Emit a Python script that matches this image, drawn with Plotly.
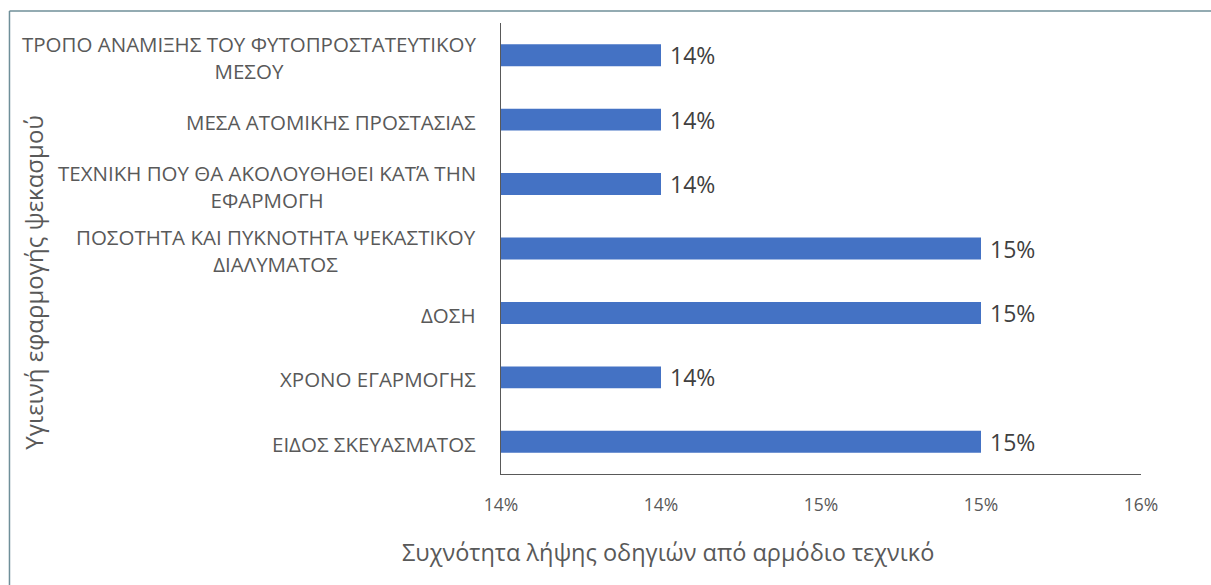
import textwrap
import plotly.graph_objects as go

# Topics on which spraying-hygiene instructions were received (top to bottom)
categories = [
    "ΤΡΟΠΟ ΑΝΑΜΙΞΗΣ ΤΟΥ ΦΥΤΟΠΡΟΣΤΑΤΕΥΤΙΚΟΥ ΜΕΣΟΥ",
    "ΜΕΣΑ ΑΤΟΜΙΚΗΣ ΠΡΟΣΤΑΣΙΑΣ",
    "ΤΕΧΝΙΚΗ ΠΟΥ ΘΑ ΑΚΟΛΟΥΘΗΘΕΙ ΚΑΤΆ ΤΗΝ ΕΦΑΡΜΟΓΗ",
    "ΠΟΣΟΤΗΤΑ ΚΑΙ ΠΥΚΝΟΤΗΤΑ ΨΕΚΑΣΤΙΚΟΥ ΔΙΑΛΥΜΑΤΟΣ",
    "ΔΟΣΗ",
    "ΧΡΟΝΟ ΕΓΑΡΜΟΓΗΣ",
    "ΕΙΔΟΣ ΣΚΕΥΑΣΜΑΤΟΣ",
]
shares = [0.1435, 0.1435, 0.1435, 0.1535, 0.1535, 0.1435, 0.1535]

# Value axis: first tick and step
axis_start = 0.1385
axis_end = 0.1585
axis_step = 0.005

x_title = "Συχνότητα λήψης οδηγιών από αρμόδιο τεχνικό"
y_title = "Υγιεινή εφαρμογής ψεκασμού"

FONT = "Open Sans"
GREY = "#595959"
DARK = "#404040"

fig = go.Figure(
    go.Bar(
        x=shares,
        y=categories,
        orientation="h",
        width=0.34,
        marker=dict(color="#4472C4", line=dict(width=0)),
        texttemplate="\u00a0%{x:.0%}",
        textposition="outside",
        constraintext="none",
        textfont=dict(family=FONT, size=23, color=DARK),
        cliponaxis=False,
        hoverinfo="skip",
    )
)

# Category labels: right-aligned blocks with centred wrapped lines
annotations = []
for cat in categories:
    annotations.append(dict(
        text="<br>".join(textwrap.wrap(cat, 37)),
        xref="paper", yref="y", x=0, y=cat,
        xanchor="right", yanchor="middle", xshift=-23, yshift=-2,
        align="center", showarrow=False,
        font=dict(family=FONT, size=20.5, color=GREY),
    ))

annotations.append(dict(
    text=x_title, xref="paper", yref="paper", x=0.261, y=-0.173,
    xanchor="center", yanchor="middle", showarrow=False,
    font=dict(family=FONT, size=23.5, color=GREY),
))
annotations.append(dict(
    text=y_title, xref="paper", yref="paper", x=-0.73, y=0.426,
    xanchor="center", yanchor="middle", textangle=-90, showarrow=False,
    font=dict(family=FONT, size=24, color=GREY),
))

# Chart frame (top and left edges)
frame = dict(color="#6f8f99", width=1.5)
shapes = [
    dict(type="line", xref="paper", yref="paper", x0=-0.768, x1=1.2,
         y0=1.0266, y1=1.0266, line=frame),
    dict(type="line", xref="paper", yref="paper", x0=-0.768, x1=-0.768,
         y0=1.0266, y1=-0.3, line=frame),
]

fig.update_layout(
    width=1211, height=585,
    margin=dict(l=501, r=70, t=23, b=111),
    paper_bgcolor="white", plot_bgcolor="white",
    showlegend=False,
    annotations=annotations,
    shapes=shapes,
    font=dict(family=FONT, color=GREY),
    xaxis=dict(
        range=[axis_start, axis_end],
        tick0=axis_start, dtick=axis_step, tickmode="linear",
        tickformat=".0%",
        showgrid=False, zeroline=False,
        showline=True, linecolor="#595959", linewidth=1,
        ticks="", ticklabelstandoff=15,
        tickfont=dict(family=FONT, size=17.5, color=GREY),
    ),
    yaxis=dict(
        categoryorder="array", categoryarray=categories,
        autorange="reversed",
        showticklabels=False, showgrid=False, zeroline=False,
        showline=True, linecolor="#595959", linewidth=1,
        ticks="",
    ),
)

fig.write_html("out.html")
